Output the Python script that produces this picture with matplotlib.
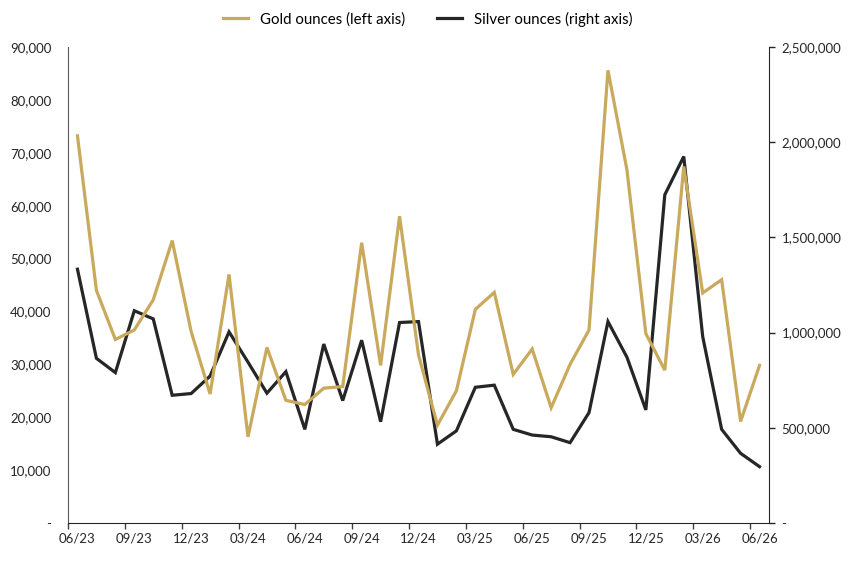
import matplotlib
matplotlib.use("Agg")
import matplotlib.pyplot as plt
from matplotlib.ticker import FuncFormatter, FixedLocator

months = [
    "06/23", "07/23", "08/23", "09/23", "10/23", "11/23", "12/23", "01/24", "02/24", "03/24",
    "04/24", "05/24", "06/24", "07/24", "08/24", "09/24", "10/24", "11/24", "12/24", "01/25",
    "02/25", "03/25", "04/25", "05/25", "06/25", "07/25", "08/25", "09/25", "10/25", "11/25",
    "12/25", "01/26", "02/26", "03/26", "04/26", "05/26", "06/26",
]
gold_oz = [
    73200, 44000, 34700, 36500, 42200, 53400, 36200, 24400, 47000, 16300,
    33200, 23200, 22400, 25500, 25800, 53000, 29800, 58000, 31800, 18500,
    25000, 40400, 43600, 28100, 32900, 21800, 30000, 36500, 85600, 66800,
    35800, 28900, 67400, 43500, 46000, 19200, 29800,
]
silver_oz = [
    1333000, 865000, 790000, 1115000, 1072000, 671000, 680000, 772000, 1004000, 845000,
    682000, 795000, 492000, 940000, 643000, 960000, 532000, 1053000, 1058000, 414000,
    484000, 713000, 724000, 492000, 462000, 453000, 422000, 580000, 1058000, 871000,
    594000, 1724000, 1925000, 979000, 492000, 366000, 296000,
]

GOLD = "#C9A95C"
SILVER = "#262626"
FONT = "Lato"


def fmt_thousands(value, _pos):
    if abs(value) < 1e-9:
        return "-"
    return f"{value:,.0f}"


fig = plt.figure(figsize=(8.52, 5.61), dpi=100)
ax = fig.add_axes([0.0798, 0.0677, 0.8228, 0.8485])
ax2 = ax.twinx()

x = list(range(len(months)))
(gold_line,) = ax.plot(x, gold_oz, color=GOLD, lw=2.3, solid_joinstyle="miter", zorder=3)
(silver_line,) = ax2.plot(x, silver_oz, color=SILVER, lw=2.3, solid_joinstyle="miter", zorder=3)
ax.set_zorder(ax2.get_zorder() + 1)
ax.patch.set_visible(False)

ax.set_xlim(-0.5, len(months) - 0.5)
ax.set_ylim(0, 90000)
ax2.set_ylim(0, 2500000)
ax.set_yticks(range(0, 90001, 10000))
ax2.set_yticks(range(0, 2500001, 500000))
ax.yaxis.set_major_formatter(FuncFormatter(fmt_thousands))
ax2.yaxis.set_major_formatter(FuncFormatter(fmt_thousands))

# category boundaries every quarter get the tick marks, labels sit on the month itself
ax.xaxis.set_major_locator(FixedLocator([i - 0.5 for i in range(0, len(months), 3)]))
ax.xaxis.set_minor_locator(FixedLocator(list(range(0, len(months), 3))))
ax.set_xticklabels([], minor=False)
ax.set_xticklabels([months[i] for i in range(0, len(months), 3)], minor=True)
ax.tick_params(axis="x", which="major", length=4, width=1, color="#404040", direction="out")
ax.tick_params(axis="x", which="minor", length=0, pad=7, labelsize=9.5, labelcolor="#262626")
ax.tick_params(axis="y", length=0, pad=12, labelsize=9.5, labelcolor="#262626")
ax2.tick_params(axis="y", length=4, width=1, color="#262626", pad=5, labelsize=9.5, labelcolor="#262626")

for lbl in ax.get_xticklabels(minor=True) + ax.get_yticklabels() + ax2.get_yticklabels():
    lbl.set_fontfamily(FONT)

for a in (ax, ax2):
    a.spines["top"].set_visible(False)
ax.spines["left"].set_color("#595959")
ax.spines["bottom"].set_color("#262626")
ax.spines["right"].set_visible(False)
ax2.spines["left"].set_visible(False)
ax2.spines["bottom"].set_visible(False)
ax2.spines["right"].set_color("#262626")

fig.legend(
    [gold_line, silver_line],
    ["Gold ounces (left axis)", "Silver ounces (right axis)"],
    loc="center",
    bbox_to_anchor=(0.502, 0.966),
    ncol=2,
    frameon=False,
    handlelength=1.7,
    handletextpad=0.8,
    columnspacing=2.1,
    prop={"family": FONT, "size": 10.8},
)

fig.savefig("out.png", dpi=100)
